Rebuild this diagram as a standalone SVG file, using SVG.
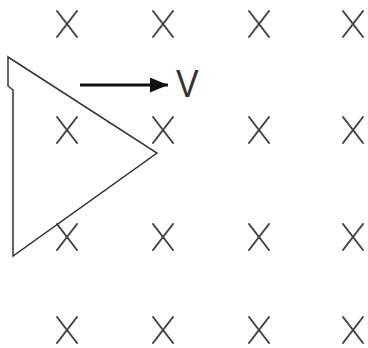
<svg xmlns="http://www.w3.org/2000/svg" width="368" height="348" viewBox="0 0 368 348">
<style>
.x{stroke:#444;stroke-width:2;stroke-linecap:round}
.t{fill:none;stroke:#333;stroke-width:1.5}
</style>
<defs>
<g id="cross"><line class="x" x1="-10" y1="-13" x2="10" y2="13"/><line class="x" x1="10" y1="-13" x2="-10" y2="13"/></g>
<marker id="ah" markerWidth="6" markerHeight="5" refX="6" refY="2.5" orient="auto" markerUnits="strokeWidth"><path d="M0,0 L6,2.5 L0,5 Z" fill="#111"/></marker>
</defs>
<rect width="368" height="348" fill="#fff"/>
<g id="field">
<use href="#cross" x="67" y="24"/><use href="#cross" x="163" y="24"/><use href="#cross" x="259" y="24"/><use href="#cross" x="353" y="24"/>
<use href="#cross" x="67" y="130"/><use href="#cross" x="163" y="130"/><use href="#cross" x="259" y="130"/><use href="#cross" x="353" y="130"/>
<use href="#cross" x="67" y="237"/><use href="#cross" x="163" y="237"/><use href="#cross" x="259" y="237"/><use href="#cross" x="353" y="237"/>
<use href="#cross" x="67" y="330"/><use href="#cross" x="163" y="330"/><use href="#cross" x="259" y="330"/><use href="#cross" x="353" y="330"/>
</g>
<g id="triangle">
<path class="t" d="M8,57 L8,86 L13,90 L13,256 L157,153 Z"/>
</g>
<g id="velocity">
<line x1="80" y1="85" x2="168" y2="85" stroke="#111" stroke-width="3" marker-end="url(#ah)"/>
<text x="176" y="97" font-family="Liberation Sans, Arial, sans-serif" font-size="34" fill="#333" transform="translate(0,-15) scale(1,1.15)" style="transform-origin:0 0">V</text>
</g>
</svg>
